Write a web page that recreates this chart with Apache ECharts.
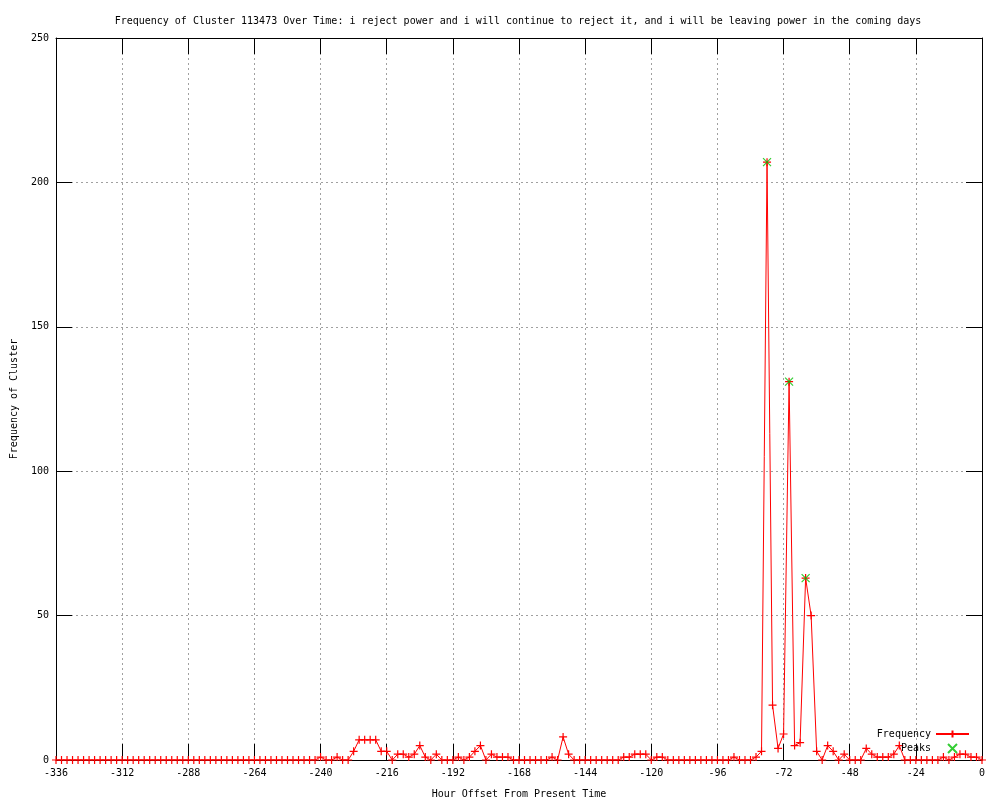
<!DOCTYPE html>
<html>
<head>
<meta charset="utf-8">
<script src="https://cdn.jsdelivr.net/npm/echarts@6/dist/echarts.min.js"></script>
<style>
html,body{margin:0;padding:0;background:#fff;}
#chart{width:1000px;height:800px;}
</style>
</head>
<body>
<div id="chart"></div>
<script>
const titleText = "Frequency of Cluster 113473 Over Time: i reject power and i will continue to reject it, and i will be leaving power in the coming days";
const xTitle = "Hour Offset From Present Time";
const yTitle = "Frequency of Cluster";

const hours = [
 -336,-334,-332,-330,-328,-326,-324,-322,-320,-318,-316,-314,-312,-310,-308,-306,-304,-302,-300,-298,
 -296,-294,-292,-290,-288,-286,-284,-282,-280,-278,-276,-274,-272,-270,-268,-266,-264,-262,-260,-258,
 -256,-254,-252,-250,-248,-246,-244,-242,-240,-238,-236,-234,-232,-230,-228,-226,-224,-222,-220,-218,
 -216,-214,-212,-210,-208,-206,-204,-202,-200,-198,-196,-194,-192,-190,-188,-186,-184,-182,-180,-178,
 -176,-174,-172,-170,-168,-166,-164,-162,-160,-158,-156,-154,-152,-150,-148,-146,-144,-142,-140,-138,
 -136,-134,-132,-130,-128,-126,-124,-122,-120,-118,-116,-114,-112,-110,-108,-106,-104,-102,-100,-98,
 -96,-94,-92,-90,-88,-86,-84,-82,-80,-78,-76,-74,-72,-70,-68,-66,-64,-62,-60,-58,
 -56,-54,-52,-50,-48,-46,-44,-42,-40,-38,-36,-34,-32,-30,-28,-26,-24,-22,-20,-18,
 -16,-14,-12,-10,-8,-6,-4,-2,0
];
const frequency = [
 0,0,0,0,0,0,0,0,0,0,0,0,0,0,0,0,0,0,0,0,
 0,0,0,0,0,0,0,0,0,0,0,0,0,0,0,0,0,0,0,0,
 0,0,0,0,0,0,0,0,1,0,0,1,0,0,3,7,7,7,7,3,
 3,0,2,2,1,2,5,1,0,2,0,0,0,1,0,1,3,5,0,2,
 1,1,1,0,0,0,0,0,0,0,1,0,8,2,0,0,0,0,0,0,
 0,0,0,1,1,2,2,2,0,1,1,0,0,0,0,0,0,0,0,0,
 0,0,0,1,0,0,0,1,3,207,19,4,9,131,5,6,63,50,3,0,
 5,3,0,2,0,0,0,4,2,1,1,1,2,5,0,0,0,0,0,0,
 0,1,0,1,2,2,1,1,0
];
const peakHours = [-78, -70, -64];
const peakValues = [207, 131, 63];

const FONT = "DejaVu Sans Mono";
const plusPath = 'path://M0,5L10,5M5,0L5,10';
const crossPath = 'path://M0,0L10,10M10,0L0,10';

const chart = echarts.init(document.getElementById('chart'), null, {renderer:'canvas'});

const freqData = hours.map((h,i)=>[h, frequency[i]]);
const peakData = peakHours.map((h,i)=>[h, peakValues[i]]);

const gridLine = {show:true, lineStyle:{color:'#a0a0a0', type:[2,3], width:1}};
const axisLine = {show:true, onZero:false, lineStyle:{color:'#000', width:1}};
const xtick = {show:true, inside:true, length:16, lineStyle:{color:'#000'}};
const ytick = {show:true, inside:true, length:16, lineStyle:{color:'#000'}};

const option = {
  animation:false,
  backgroundColor:'#fff',
  title:{
    text:titleText,
    left:513, top:11, textAlign:'center',
    textStyle:{fontFamily:FONT, fontSize:10, fontWeight:'normal', color:'#000'}
  },
  grid:{left:56, right:18, top:38, bottom:40, containLabel:false, outerBoundsMode:'none'},
  legend:{
    orient:'vertical', align:'right', right:25, top:724,
    itemWidth:33, itemHeight:9, itemGap:4,
    textStyle:{fontFamily:FONT, fontSize:10, color:'#000', width:56, align:'right'},
    data:['Frequency','Peaks']
  },
  xAxis:[{
    type:'value', min:-336, max:0, interval:24, position:'bottom',
    name:xTitle, nameLocation:'middle', nameGap:29,
    nameTextStyle:{fontFamily:FONT, fontSize:10, color:'#000'},
    axisLine:axisLine, axisTick:xtick, splitLine:gridLine,
    axisLabel:{fontFamily:FONT, fontSize:10, color:'#000', margin:8}
  },{
    type:'value', min:-336, max:0, interval:24, position:'top',
    axisLine:axisLine, axisTick:xtick, splitLine:{show:false}, axisLabel:{show:false}
  }],
  yAxis:[{
    type:'value', min:0, max:250, interval:50, position:'left',
    name:yTitle, nameLocation:'middle', nameGap:37,
    nameTextStyle:{fontFamily:FONT, fontSize:10, color:'#000'},
    axisLine:axisLine, axisTick:ytick, splitLine:gridLine,
    axisLabel:{fontFamily:FONT, fontSize:10, color:'#000', margin:7}
  },{
    type:'value', min:0, max:250, interval:50, position:'right',
    axisLine:axisLine, axisTick:ytick, splitLine:{show:false}, axisLabel:{show:false}
  }],
  series:[{
    name:'Frequency', type:'line', data:freqData,
    xAxisIndex:0, yAxisIndex:0,
    showSymbol:true, showAllSymbol:true,
    symbol:plusPath, symbolSize:8,
    lineStyle:{color:'#ff0000', width:1},
    itemStyle:{color:'#ff0000', borderColor:'#ff0000', borderWidth:1.2},
    emphasis:{disabled:true}, z:3
  },{
    name:'Peaks', type:'scatter', data:peakData,
    xAxisIndex:0, yAxisIndex:0,
    symbol:crossPath, symbolSize:8,
    itemStyle:{color:'#00c000', borderColor:'#00c000', borderWidth:1.2},
    emphasis:{disabled:true}, z:4
  }]
};
chart.setOption(option);
</script>
</body>
</html>
